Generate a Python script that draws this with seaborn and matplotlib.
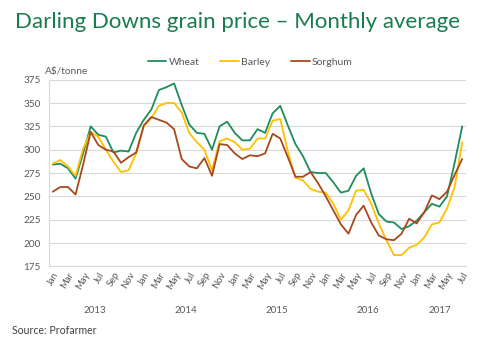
import matplotlib
matplotlib.use("Agg")
import matplotlib.pyplot as plt
import seaborn as sns
import pandas as pd
import numpy as np

years = [2013, 2014, 2015, 2016, 2017]
month_names = ["Jan", "Feb", "Mar", "Apr", "May", "Jun", "Jul", "Aug", "Sep", "Oct", "Nov", "Dec"]
months = [f"{m} {y}" for y in years for m in month_names][:55]

wheat = [284, 285, 280, 269, 296, 325, 316, 314, 297, 299, 298, 318,
         332, 343, 364, 367, 371, 348, 327, 318, 317, 300, 325, 330,
         318, 310, 310, 322, 318, 339, 347, 326, 306, 293, 276, 275,
         275, 265, 254, 256, 272, 280, 253, 231, 223, 222, 215, 218,
         224, 233, 242, 239, 250, 286, 325]
barley = [285, 289, 282, 272, 301, 319, 314, 300, 287, 276, 278, 296,
          325, 334, 347, 350, 350, 340, 318, 308, 300, 278, 309, 312,
          308, 300, 301, 312, 312, 331, 333, 298, 270, 267, 258, 255,
          254, 242, 225, 235, 256, 257, 242, 221, 203, 187, 187, 195,
          198, 206, 220, 222, 237, 260, 308]
sorghum = [255, 260, 260, 252, 284, 319, 305, 300, 298, 286, 292, 297,
           326, 335, 332, 329, 322, 290, 282, 280, 291, 272, 306, 305,
           296, 290, 294, 293, 296, 317, 312, 292, 271, 271, 276, 264,
           250, 235, 220, 210, 230, 240, 222, 208, 204, 203, 210, 226,
           221, 233, 251, 247, 255, 273, 290]

series_names = ["Wheat", "Barley", "Sorghum"]
colors = ["#1f8c5b", "#ffc000", "#a8481c"]

rows = []
for name, vals in zip(series_names, [wheat, barley, sorghum]):
    for i, v in enumerate(vals):
        rows.append({"idx": i, "month": months[i], "price": v, "grain": name})
df = pd.DataFrame(rows)

sns.set_theme(style="white")
plt.rcParams["font.family"] = ["Lato", "DejaVu Sans"]

fig = plt.figure(figsize=(5.0, 3.45), dpi=100)
ax = fig.add_axes([0.098, 0.228, 0.834, 0.541])

sns.lineplot(data=df, x="idx", y="price", hue="grain", palette=colors,
             hue_order=series_names, linewidth=1.3, ax=ax, legend=False)

ax.set_xlim(-0.5, 54.5)
ax.set_ylim(175, 375)
ax.set_yticks(np.arange(175, 376, 25))
ax.yaxis.grid(True, color="#d9d9d9", linewidth=0.8)
ax.xaxis.grid(False)
for s in ["top", "right"]:
    ax.spines[s].set_visible(False)
ax.spines["left"].set_color("#d9d9d9")
ax.spines["bottom"].set_color("#d9d9d9")
ax.spines["left"].set_linewidth(0.8)
ax.spines["bottom"].set_linewidth(0.8)
ax.tick_params(axis="both", length=0, labelsize=7.2, colors="#595959", pad=6)

tick_idx = list(range(0, 55, 2))
ax.set_xticks(tick_idx)
ax.set_xticklabels([months[i].split()[0] for i in tick_idx], rotation=60,
                   ha="right", rotation_mode="anchor", fontsize=6.8, color="#595959")
ax.tick_params(axis="x", pad=3)
ax.set_xlabel("")
ax.set_ylabel("")

# year labels
trans = ax.get_xaxis_transform()
for k, y in enumerate(years):
    idxs = [i for i, m in enumerate(months) if m.endswith(str(y))]
    ax.text(np.mean(idxs), -0.235, str(y), transform=trans, ha="center", va="center",
            fontsize=7, color="#595959")

ax.text(-0.01, 1.045, "A$/tonne", transform=ax.transAxes, ha="left", va="center",
        fontsize=7.3, color="#595959")

from matplotlib.lines import Line2D
handles = [Line2D([0], [0], color=c, lw=1.3) for c in colors]
fig.legend(handles, series_names, loc="center", bbox_to_anchor=(0.5, 0.82), ncol=3,
           frameon=False, fontsize=7.5, handlelength=1.8, handletextpad=0.2,
           columnspacing=2.0, labelcolor="#595959")

fig.text(0.03, 0.937, "Darling Downs grain price \u2013 Monthly average", ha="left",
         va="center", fontsize=16, color="#177d4f")
fig.text(0.024, 0.043, "Source: Profarmer", ha="left", va="center", fontsize=7.6,
         color="#404040")

fig.savefig("out.png", dpi=100)
